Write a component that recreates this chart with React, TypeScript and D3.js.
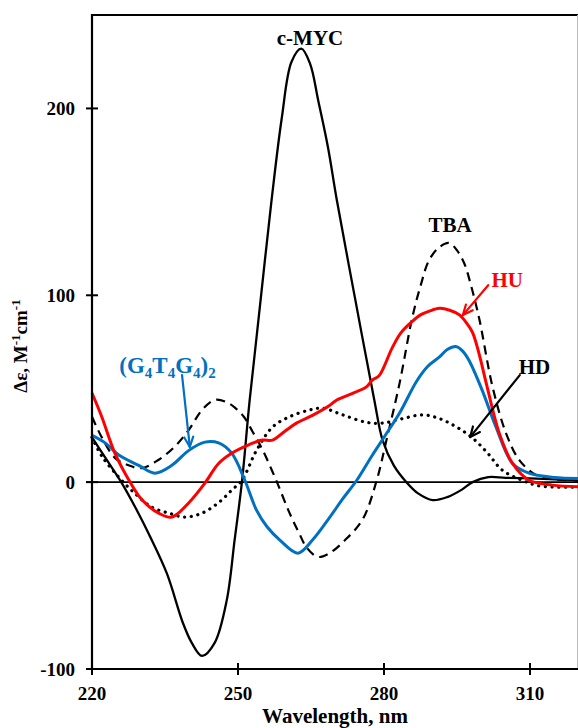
import React from "react";
import * as d3 from "d3";

// ---- data (wavelength nm, Δε) ----
const mycWl = [220, 223, 226, 229, 232, 235.4, 238.7, 240.5, 242.6, 245.2, 247.7, 249.3, 250.8, 252.4, 254.5, 256.9, 259, 261, 263, 264.8, 266.5, 268.5, 270.3, 274, 278, 279.7, 282, 284.6, 287, 290, 293, 296, 298.2, 301.4, 305, 310, 315, 320];
const mycVal = [24, 12, 0, -14, -29.5, -49, -75.5, -86, -93, -86, -63, -31, 0, 44, 94, 151, 195, 225, 232, 224, 204, 179, 151, 99, 44, 22.5, 9, 0, -6, -9.6, -8, -4, 0, 2.7, 2.3, 2, 1.5, 1];

const tbaWl = [220, 222, 224.7, 227.5, 230.3, 233.7, 237, 239.9, 242.6, 245.2, 247.5, 249.3, 251.2, 253, 255.1, 258, 260.6, 262.5, 264.1, 266.4, 268.8, 272, 275.6, 278.5, 280.5, 283.2, 285.8, 287.5, 289.3, 291.5, 293.4, 295, 296.5, 298, 299.6, 302.3, 305.1, 307.8, 311.3, 315, 320];
const tbaVal = [35, 24, 13, 9, 7.5, 12, 19, 28, 38.6, 44, 43, 40, 35, 27, 17, 0, -16.6, -27, -35, -40, -38, -31, -20, 1, 22.5, 53, 88, 105, 119, 126, 128, 124, 117, 104, 87, 51, 26, 11.8, 3.7, 1.5, 1];

const g4Wl = [220, 222.7, 225.5, 229.6, 232.9, 236.4, 239.9, 243.2, 246, 248.7, 251.4, 253.8, 256, 258.6, 262.3, 265.3, 268.8, 271.5, 274.4, 277.5, 280.5, 283.2, 286.7, 289, 291.4, 293, 294.9, 296.2, 297.5, 300.2, 303, 306.4, 309.8, 315, 320];
const g4Val = [25, 21, 14.5, 9, 4.8, 9, 17, 21.4, 21, 15.5, 1, -15, -24, -31, -38, -31, -19, -9, 1, 14, 26, 37, 54, 62, 67, 71, 72.5, 70, 65, 49, 29.5, 10, 4.8, 2.5, 2];

const huWl = [220, 222, 224.7, 227.6, 230.3, 233.7, 236.4, 239.9, 243.2, 246, 248.7, 252.2, 255, 257.1, 259.5, 262, 265.5, 268.8, 270.3, 274, 276.4, 277.6, 279, 281.7, 283.5, 285.8, 287.5, 289.3, 291.4, 293.5, 295.5, 297, 298.2, 299.6, 301, 303.7, 306.4, 309.8, 314.6, 320];
const huVal = [47.7, 35, 15.5, 1, -9.6, -16.6, -18.7, -11, -0.5, 10, 15.5, 20, 22.5, 22.5, 27, 31.6, 36, 41, 44, 48, 51, 54.6, 57, 72, 80, 86, 89.5, 91.5, 93, 92, 89.5, 85, 80, 68, 53, 26, 10, 1, -1.6, -2.5];

const hdWl = [220, 222, 225.5, 228.8, 232.3, 235.8, 239.1, 242.6, 246, 248.7, 250.8, 253.8, 257.1, 260.6, 264.7, 267.4, 271.5, 276.4, 279.7, 283.8, 287.9, 291.4, 294.9, 298.2, 301.3, 304.3, 308.4, 311.9, 320];
const hdVal = [24, 14, 2.7, -6, -13.4, -16.6, -18.7, -16.6, -11, -4.3, 1, 17, 29.5, 35, 38.6, 39.6, 36, 32, 31.6, 34, 36, 34, 29.5, 23.6, 15.5, 6.4, 1, -2, -2.7];

const xTicks = [220, 250, 280, 310];
const yTicks = [-100, 0, 100, 200];

const BLUE = "#0070C0";
const RED = "#FF0000";
const FONT = "'Liberation Serif', 'Times New Roman', serif";

export default function App() {
  const W = 578, H = 728;
  const x = d3.scaleLinear().domain([220, 320]).range([92, 578.7]);
  const y = d3.scaleLinear().domain([-100, 250]).range([669, 15]);

  const mk = (wl: number[], v: number[]) =>
    d3.line<number>().x((_, i) => x(wl[i])).y((d) => y(d)).curve(d3.curveCatmullRom.alpha(0.5))(v) || "";

  const arrow = (x1: number, y1: number, x2: number, y2: number, color: string) => {
    const px1 = x(x1), py1 = y(y1), px2 = x(x2), py2 = y(y2);
    const a = Math.atan2(py2 - py1, px2 - px1);
    const L = 11, s = 0.42;
    const h1 = [px2 - L * Math.cos(a - s), py2 - L * Math.sin(a - s)];
    const h2 = [px2 - L * Math.cos(a + s), py2 - L * Math.sin(a + s)];
    return (
      <g stroke={color} strokeWidth={2.2} fill="none" strokeLinecap="round" strokeLinejoin="round">
        <line x1={px1} y1={py1} x2={px2} y2={py2} />
        <polyline points={`${h1[0]},${h1[1]} ${px2},${py2} ${h2[0]},${h2[1]}`} />
      </g>
    );
  };

  return (
    <svg width={W} height={H} style={{ position: "absolute", left: 0, top: 0, background: "#fff" }} fontFamily={FONT}>
      <rect x={0} y={0} width={W} height={H} fill="#fff" />
      {/* frame */}
      <line x1={91} y1={15} x2={578} y2={15} stroke="#000" strokeWidth={2.2} />
      <line x1={577.5} y1={15} x2={577.5} y2={669} stroke="#bbb" strokeWidth={1} />
      {/* zero line */}
      <line x1={86} y1={y(0)} x2={578} y2={y(0)} stroke="#000" strokeWidth={1.6} />

      {/* curves */}
      <path d={mk(hdWl, hdVal)} fill="none" stroke="#000" strokeWidth={3.2} strokeDasharray="0.1 6.6" strokeLinecap="round" />
      <path d={mk(tbaWl, tbaVal)} fill="none" stroke="#000" strokeWidth={2.2} strokeDasharray="9 6" />
      <path d={mk(mycWl, mycVal)} fill="none" stroke="#000" strokeWidth={2.3} />
      <path d={mk(g4Wl, g4Val)} fill="none" stroke={BLUE} strokeWidth={3} />
      <path d={mk(huWl, huVal)} fill="none" stroke={RED} strokeWidth={3} />

      {/* axes */}
      <line x1={92} y1={14} x2={92} y2={670} stroke="#000" strokeWidth={2.2} />
      <line x1={86} y1={669} x2={578} y2={669} stroke="#000" strokeWidth={2.2} />
      {yTicks.map((t) => (
        <g key={"y" + t}>
          <line x1={86} x2={98} y1={y(t)} y2={y(t)} stroke="#000" strokeWidth={2} />
          <text x={75} y={y(t) + 6.5} textAnchor="end" fontSize={19} fontWeight="bold">{t}</text>
        </g>
      ))}
      {xTicks.map((t) => (
        <g key={"x" + t}>
          <line x1={x(t)} x2={x(t)} y1={663} y2={675} stroke="#000" strokeWidth={2} />
          <text x={x(t)} y={700} textAnchor="middle" fontSize={19} fontWeight="bold">{t}</text>
        </g>
      ))}
      <text x={335} y={723} textAnchor="middle" fontSize={21} fontWeight="bold">Wavelength, nm</text>
      <text transform="translate(27,346) rotate(-90)" textAnchor="middle" fontSize={19} fontWeight="bold">
        Δε, M<tspan fontSize={13} dy={-7}>-1</tspan><tspan dy={7}>cm</tspan><tspan fontSize={13} dy={-7}>-1</tspan>
      </text>

      {/* annotations */}
      <text x={x(264.8)} y={y(234.2)} textAnchor="middle" fontSize={21} fontWeight="bold">c-MYC</text>
      <text x={x(293.6)} y={y(133.8)} textAnchor="middle" fontSize={21} fontWeight="bold">TBA</text>
      <text x={x(305.3)} y={y(104.4)} textAnchor="middle" fontSize={21} fontWeight="bold" fill={RED}>HU</text>
      <text x={x(310.9)} y={y(57.8)} textAnchor="middle" fontSize={21} fontWeight="bold">HD</text>
      <text x={x(225.6)} y={y(58.4)} fontSize={23} fontWeight="bold" fill={BLUE}>
        (G<tspan fontSize={15} dy={5}>4</tspan><tspan dy={-5}>T</tspan><tspan fontSize={15} dy={5}>4</tspan><tspan dy={-5}>G</tspan><tspan fontSize={15} dy={5}>4</tspan><tspan dy={-5}>)</tspan><tspan fontSize={15} dy={5}>2</tspan>
      </text>
      {arrow(238.5, 57.3, 240.1, 18.8, BLUE)}
      {arrow(301.4, 105.4, 296.2, 89.4, RED)}
      {arrow(307.9, 57.3, 297.7, 24.1, "#000")}
    </svg>
  );
}
